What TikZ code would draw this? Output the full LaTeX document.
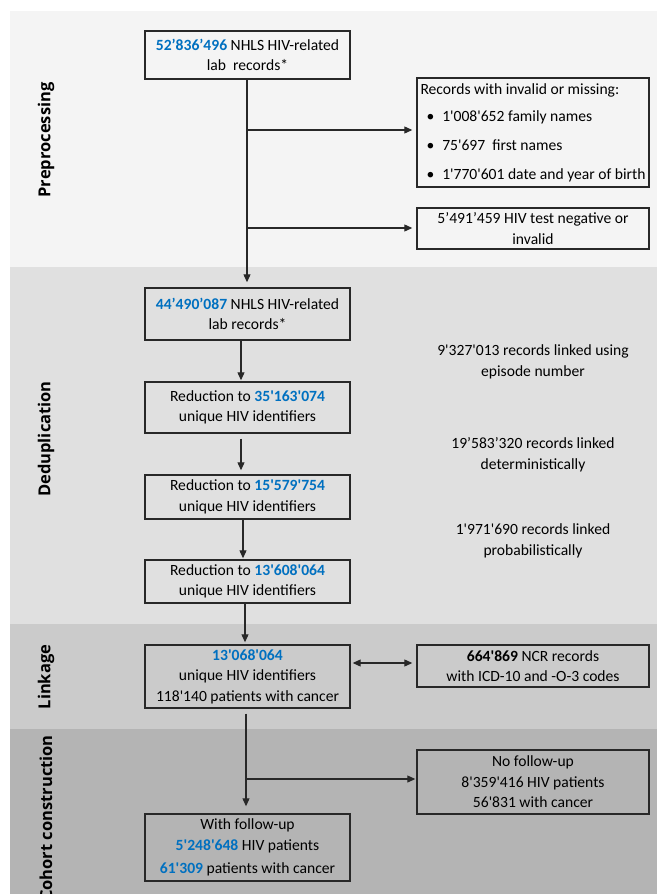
\documentclass[tikz,border=0pt]{standalone}
\usepackage{fontspec}
\setmainfont{Carlito}[Ligatures=TeXOff]
\newfontfamily\labelfont{Open Sans}
\usetikzlibrary{arrows.meta}
\definecolor{numblue}{RGB}{0,112,192}
\definecolor{bandA}{RGB}{244,244,244}
\definecolor{bandB}{RGB}{224,224,224}
\definecolor{bandC}{RGB}{203,203,203}
\definecolor{bandD}{RGB}{180,180,180}
\definecolor{edge}{RGB}{40,40,40}
\newcommand{\bn}[1]{{\color{numblue}\bfseries #1}}
\tikzset{
  box/.style={draw=edge, line width=1.4pt, inner sep=0pt, align=center,
    font=\fontsize{15.6}{20.5}\selectfont, minimum width=205pt},
  sidebox/.style={box, minimum width=232pt},
  sidetext/.style={inner sep=0pt, align=center, font=\fontsize{15.6}{21}\selectfont},
  band/.style={rotate=90, inner sep=0pt, font=\labelfont\bfseries\fontsize{16.5}{18}\selectfont},
  arr/.style={draw=edge, line width=1.1pt, -{Triangle[length=8pt,width=7pt]}},
  darr/.style={draw=edge, line width=1.1pt, {Triangle[length=8pt,width=7pt]}-{Triangle[length=8pt,width=7pt]}}
}
\begin{document}
\begin{tikzpicture}[x=1pt,y=-1pt]
\useasboundingbox (0,0) rectangle (657,894);
\clip (0,0) rectangle (657,894);
% bands
\fill[bandA] (10,11) rectangle (657,267);
\fill[bandB] (10,267) rectangle (657,624);
\fill[bandC] (10,624) rectangle (657,729);
\fill[bandD] (10,729) rectangle (657,894);
% band labels
\node[band] (lpre) at (46,140) {Preprocessing};
\node[band] (ldedup) at (46,439) {Deduplication};
\node[band] (llink) at (46,677) {Linkage};
\node[band, anchor=east] (lcoh) at (46,735) {Cohort construction};
% main column
\node[box, minimum height=48pt] (b1) at (247.5,55) {\bn{52’836’496} NHLS HIV-related\\lab\ \ records*};
\node[box, minimum height=52pt] (b2) at (247.5,314) {\bn{44’490’087} NHLS HIV-related\\lab records*};
\node[box, minimum height=51pt] (b3) at (247.5,407.5) {Reduction to \bn{35'163'074}\\unique HIV identifiers};
\node[box, minimum height=44pt] (b4) at (247.5,497) {Reduction to \bn{15'579'754}\\unique HIV identifiers};
\node[box, minimum height=43pt] (b5) at (247.5,581.5) {Reduction to \bn{13'608'064}\\unique HIV identifiers};
\node[box, minimum height=63pt] (b6) at (247.5,676.5) {\bn{13'068'064}\\unique HIV identifiers\\118'140 patients with cancer};
\node[box, minimum height=67pt] (b7) at (247.5,847.5) {With follow-up\\\bn{5'248'648} HIV patients\\[3pt]\bn{61'309} patients with cancer};
% side boxes
\node[sidebox, minimum height=109pt] (r1) at (533,132.5) {};
\node[anchor=north west, inner sep=0pt, align=left, font=\fontsize{15.6}{20.5}\selectfont] (r1t) at ([xshift=4pt,yshift=-6pt]r1.north west)
 {Records with invalid or missing:\\[6.5pt]
  \hspace*{6pt}\textbullet\hspace{8pt}1'008'652 family names\\[8.5pt]
  \hspace*{6pt}\textbullet\hspace{8pt}75'697\ \ first names\\[9pt]
  \hspace*{6pt}\textbullet\hspace{8pt}1'770'601 date and year of birth};
\node[sidebox, minimum height=41pt] (r2) at (533,228.5) {5’491’459 HIV test negative or\\invalid};
\node[sidebox, minimum height=42pt] (ncr) at (533,666) {\textbf{664'869} NCR records\\with ICD-10 and -O-3 codes};
\node[sidebox, minimum height=64pt] (nofu) at (533,782) {No follow-up\\8'359'416 HIV patients\\56'831 with cancer};
% dedup side texts
\node[sidetext] (t1) at (533,362) {9'327'013 records linked using\\episode number};
\node[sidetext] (t2) at (533,455) {19’583’320 records linked\\deterministically};
\node[sidetext] (t3) at (533,541) {1'971'690 records linked\\probabilistically};
% connectors
\coordinate (j1) at (247,130);
\coordinate (j2) at (248,228);
\coordinate (j3) at (246,779);
\draw[arr, shorten >=5pt] ([xshift=-0.5pt]b1.south) -- ([xshift=-0.5pt]b2.north);
\draw[arr, shorten >=4pt] (j1) -- (j1 -| r1.west);
\draw[arr, shorten >=4pt] (j2) -- (j2 -| r2.west);
\draw[arr, shorten >=1pt] ([xshift=-6.5pt]b2.south) -- ([xshift=-6.5pt]b3.north);
\draw[arr, shorten <=5pt, shorten >=4pt] ([xshift=-6.5pt]b3.south) -- ([xshift=-6.5pt]b4.north);
\draw[arr, shorten >=1pt] ([xshift=-4.5pt]b4.south) -- ([xshift=-4.5pt]b5.north);
\draw[arr, shorten >=2pt] ([xshift=-2.5pt]b5.south) -- ([xshift=-2.5pt]b6.north);
\draw[darr, shorten <=2pt, shorten >=4pt] ([yshift=13.5pt]b6.east) -- ([yshift=13.5pt]b6.east -| ncr.west);
\draw[arr, shorten <=5pt, shorten >=7pt] ([xshift=-1.5pt]b6.south) -- ([xshift=-1.5pt]b7.north);
\draw[arr, shorten >=1pt] (j3) -- (j3 -| nofu.west);
\end{tikzpicture}
\end{document}
